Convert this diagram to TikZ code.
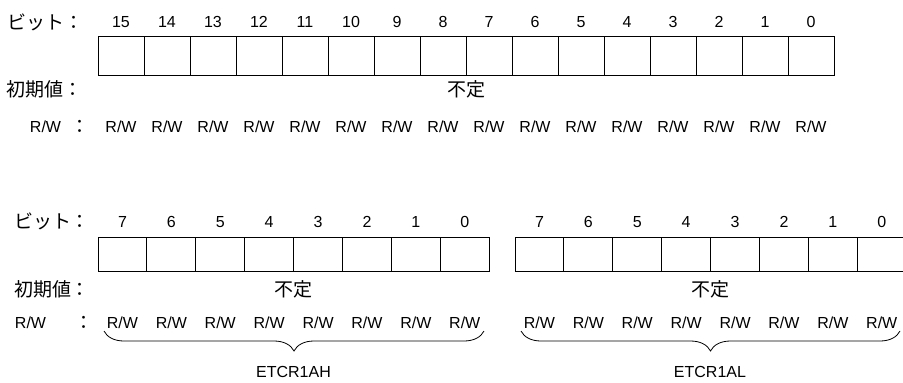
\documentclass[tikz,border=0pt]{standalone}
\usepackage{fontspec}
\setmainfont{Liberation Sans}
\newfontfamily\jp{Noto Sans CJK JP}
\usetikzlibrary{decorations.pathreplacing}
\begin{document}
\begin{tikzpicture}[x=1pt,y=-1pt,
  every node/.style={inner sep=0pt, outer sep=0pt},
  txt/.style={font=\fontsize{16}{19}\selectfont},
  jtxt/.style={font=\jp\fontsize{19}{22}\selectfont},
  topcell/.style={draw, line width=0.9pt, minimum width=46pt, minimum height=39pt},
  botcell/.style={draw, line width=0.9pt, minimum width=48.9pt, minimum height=34pt},
  brc/.style={decorate, decoration={brace, mirror, amplitude=20pt}, line width=0.8pt}]
\useasboundingbox (0,0) rectangle (903,383);
\clip (0,0) rectangle (903,383);
% ---------- top register ----------
\node[jtxt, anchor=west] (lbit) at (8,22) {ビット：};
\node[jtxt, anchor=west] (linit) at (6,89) {初期値：};
\node[txt, anchor=west] (lrwA) at (30,127) {R/W};
\node[jtxt] (lrwc) at (80,127) {：};
\foreach \i in {0,...,15}{
  \pgfmathsetmacro\x{98+46*\i+23}
  \pgfmathtruncatemacro\b{15-\i}
  \node[topcell] (t\i) at (\x,55.5) {};
  \node[txt] (tb\i) at (\x,22) {\b};
  \node[txt] (tr\i) at (\x,127) {R/W};
}
\node[jtxt] (tinit) at (466,89) {不定};
% ---------- bottom registers ----------
\node[jtxt, anchor=west] (bbit) at (14,221) {ビット：};
\node[jtxt, anchor=west] (binit) at (14,289) {初期値：};
\node[txt, anchor=west] (brw) at (15,323) {R/W};
\node[jtxt] (brwc) at (84,323) {：};
\foreach \i in {0,...,7}{
  \pgfmathsetmacro\xa{98+48.9*\i+24.45}
  \pgfmathsetmacro\xb{515+48.9*\i+24.45}
  \pgfmathtruncatemacro\b{7-\i}
  \node[botcell] (a\i) at (\xa,254) {};
  \node[botcell] (b\i) at (\xb,254) {};
  \node[txt] (ab\i) at (\xa,222) {\b};
  \node[txt] (bb\i) at (\xb,222) {\b};
  \node[txt] (ar\i) at (\xa,323) {R/W};
  \node[txt] (br\i) at (\xb,323) {R/W};
}
\node[jtxt] (ainit) at (293.5,289) {不定};
\node[jtxt] (binitv) at (710,289) {不定};
\coordinate (braL) at (104,331);
\coordinate (braR) at (484,331);
\coordinate (brbL) at (521,331);
\coordinate (brbR) at (900,331);
\draw[brc] (braL) -- (braR);
\draw[brc] (brbL) -- (brbR);
\node[txt] (nameA) at (293.5,372) {ETCR1AH};
\node[txt] (nameB) at (710,372) {ETCR1AL};
\end{tikzpicture}
\end{document}
